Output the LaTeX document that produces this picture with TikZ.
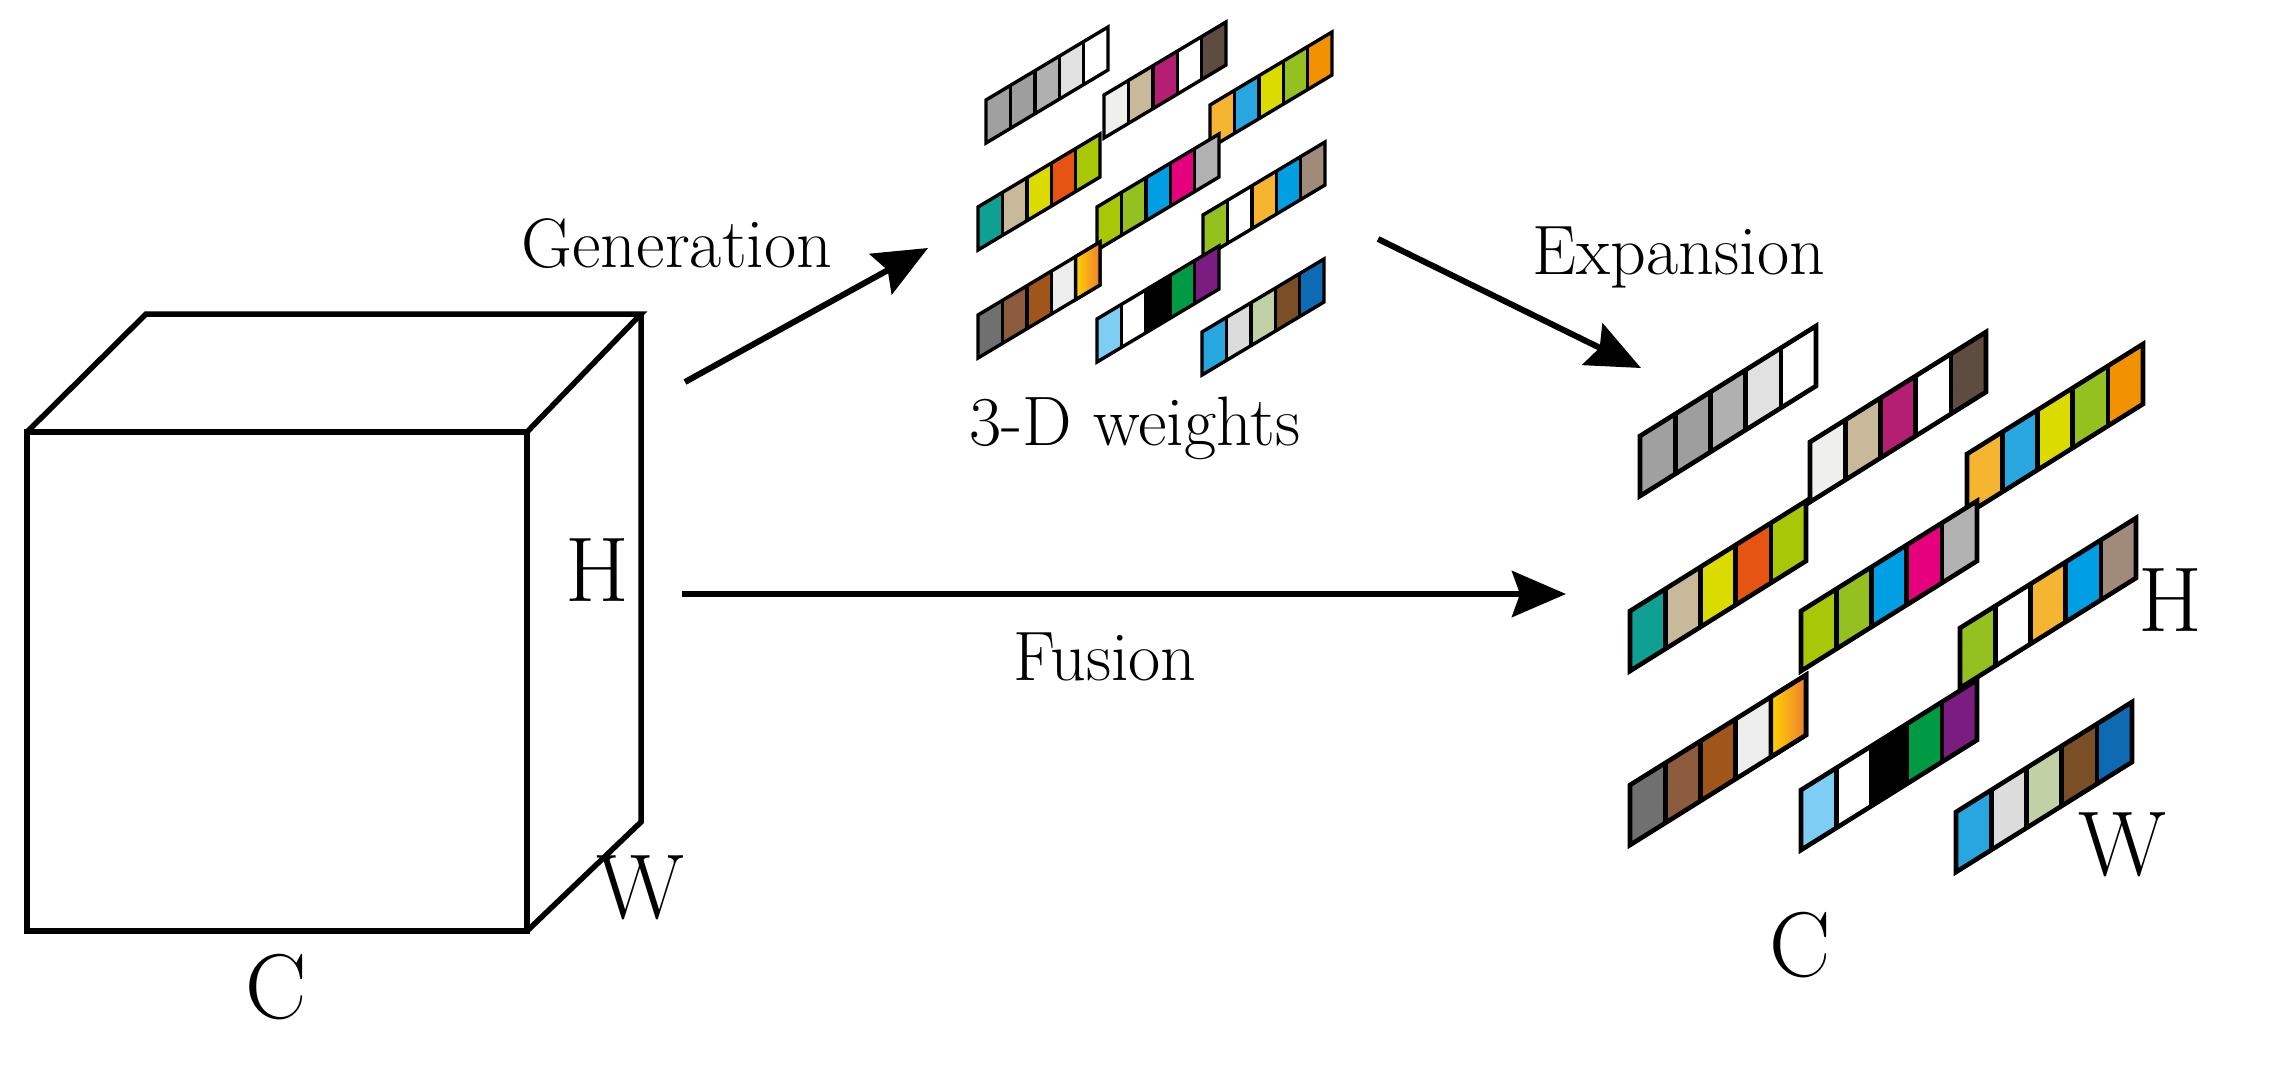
\documentclass[tikz,border=0pt]{standalone}
\usetikzlibrary{arrows.meta}
\definecolor{g1}{HTML}{A0A0A0}\definecolor{g2}{HTML}{9E9E9E}\definecolor{g3}{HTML}{B0B0B0}
\definecolor{g4}{HTML}{E0E1E0}\definecolor{wt}{HTML}{FFFFFF}
\definecolor{b1}{HTML}{EFF0EE}\definecolor{b2}{HTML}{C8B99B}\definecolor{b3}{HTML}{B41F73}\definecolor{b5}{HTML}{5E4C40}
\definecolor{c1}{HTML}{F6B531}\definecolor{c2}{HTML}{27A6E0}\definecolor{c3}{HTML}{DBDB00}\definecolor{c4}{HTML}{94C11F}\definecolor{c5}{HTML}{F39200}
\definecolor{d1}{HTML}{109F93}\definecolor{d4}{HTML}{E55412}\definecolor{d5}{HTML}{A8C706}
\definecolor{e3}{HTML}{009FE3}\definecolor{e4}{HTML}{E6007E}\definecolor{e5}{HTML}{B1B1B1}
\definecolor{f5}{HTML}{A08B7A}
\definecolor{h1}{HTML}{707070}\definecolor{h2}{HTML}{8C5A3C}\definecolor{h3}{HTML}{A0561A}\definecolor{h4}{HTML}{ECEDEC}
\definecolor{gy}{HTML}{FFD400}\definecolor{go}{HTML}{EF7D32}
\definecolor{k1}{HTML}{7DCDF4}\definecolor{k3}{HTML}{000000}\definecolor{k4}{HTML}{009A44}\definecolor{k5}{HTML}{7B1C80}
\definecolor{m2}{HTML}{DCDCDC}\definecolor{m3}{HTML}{C2D1A5}\definecolor{m4}{HTML}{7B4F26}\definecolor{m5}{HTML}{0F6AB4}
% #1 x, #2 y (bottom-left), #3 width, #4 rise, #5 height, #6 colours, #7 line width
\newcommand\wstrip[7]{%
  \pgfmathsetmacro\cw{#3/5}\pgfmathsetmacro\cr{#4/5}%
  \foreach \cc [count=\i from 0] in {#6}{%
    \fill[\cc] ({#1+\i*\cw},{#2-\i*\cr}) -- ({#1+(\i+1)*\cw},{#2-(\i+1)*\cr})
      -- ({#1+(\i+1)*\cw},{#2-(\i+1)*\cr-#5}) -- ({#1+\i*\cw},{#2-\i*\cr-#5}) -- cycle;}%
  \foreach \i in {1,...,4}{%
    \draw[line width=#7] ({#1+\i*\cw},{#2-\i*\cr}) -- ({#1+\i*\cw},{#2-\i*\cr-#5});}%
  \draw[line width=#7,line join=miter] (#1,#2) -- ({#1+#3},{#2-#4}) -- ({#1+#3},{#2-#4-#5}) -- (#1,{#2-#5}) -- cycle;}
% gradient last cell
\newcommand\gcell[6]{%
  \pgfmathsetmacro\cw{#3/5}\pgfmathsetmacro\cr{#4/5}%
  \shade[left color=gy,right color=go] ({#1+4*\cw},{#2-4*\cr}) -- ({#1+5*\cw},{#2-5*\cr})
      -- ({#1+5*\cw},{#2-5*\cr-#5}) -- ({#1+4*\cw},{#2-4*\cr-#5}) -- cycle;
  \draw[line width=#6,line join=miter] ({#1+4*\cw},{#2-4*\cr}) -- ({#1+5*\cw},{#2-5*\cr})
      -- ({#1+5*\cw},{#2-5*\cr-#5}) -- ({#1+4*\cw},{#2-4*\cr-#5}) -- cycle;}
\begin{document}
\begin{tikzpicture}[x=1pt,y=-1pt,
  lbl/.style={font=\fontsize{70}{80}\selectfont,inner sep=0pt,anchor=base},
  big/.style={font=\fontsize{92}{100}\selectfont,inner sep=0pt},
  arr/.style={line width=6pt,-{Stealth[length=54pt,width=46pt,inset=8pt]}},
  cube/.style={line width=5.5pt,line join=miter}]
\useasboundingbox (0,0) rectangle (2280,1066);
% cube
\coordinate (f1) at (27,432);\coordinate (f2) at (527,432);
\coordinate (f3) at (527,931);\coordinate (f4) at (27,931);
\coordinate (b1) at (146,314);\coordinate (b2) at (641,314);\coordinate (b3) at (641,822);
\draw[cube] (f1) -- (f2) -- (f3) -- (f4) -- cycle;
\draw[cube] (f1) -- (b1) -- (b2) -- (f2);
\draw[cube] (b2) -- (b3) -- (f3);
\node[big] (cH) at (597,570) {H};
\node[big] (cW) at (640,888) {W};
\node[big] (cC) at (276,987) {C};
% small weights
\def\sw{122}\def\sr{73}\def\sh{43}\def\sl{3.4}
\wstrip{986}{143}{\sw}{\sr}{\sh}{g1,g2,g3,g4,wt}{\sl}
\wstrip{1104}{138}{\sw}{\sr}{\sh}{b1,b2,b3,wt,b5}{\sl}
\wstrip{1210}{148}{\sw}{\sr}{\sh}{c1,c2,c3,c4,c5}{\sl}
\wstrip{978}{250}{\sw}{\sr}{\sh}{d1,b2,c3,d4,d5}{\sl}
\wstrip{1097}{250}{\sw}{\sr}{\sh}{d5,c4,e3,e4,e5}{\sl}
\wstrip{1203}{258}{\sw}{\sr}{\sh}{c4,wt,c1,e3,f5}{\sl}
\wstrip{978}{358}{\sw}{\sr}{\sh}{h1,h2,h3,h4,gy}{\sl}
\gcell{978}{358}{\sw}{\sr}{\sh}{\sl}
\wstrip{1097}{362}{\sw}{\sr}{\sh}{k1,wt,k3,k4,k5}{\sl}
\wstrip{1202}{375}{\sw}{\sr}{\sh}{c2,m2,m3,m4,m5}{\sl}
% large weights
\def\lw{176}\def\lr{110}\def\lh{60}\def\ll{4.6}
\wstrip{1640}{496}{\lw}{\lr}{\lh}{g1,g2,g3,g4,wt}{\ll}
\wstrip{1810}{502}{\lw}{\lr}{\lh}{b1,b2,b3,wt,b5}{\ll}
\wstrip{1967}{514}{\lw}{\lr}{\lh}{c1,c2,c3,c4,c5}{\ll}
\wstrip{1630}{671}{\lw}{\lr}{\lh}{d1,b2,c3,d4,d5}{\ll}
\wstrip{1801}{671}{\lw}{\lr}{\lh}{d5,c4,e3,e4,e5}{\ll}
\wstrip{1960}{688}{\lw}{\lr}{\lh}{c4,wt,c1,e3,f5}{\ll}
\wstrip{1630}{845}{\lw}{\lr}{\lh}{h1,h2,h3,h4,gy}{\ll}
\gcell{1630}{845}{\lw}{\lr}{\lh}{\ll}
\wstrip{1801}{850}{\lw}{\lr}{\lh}{k1,wt,k3,k4,k5}{\ll}
\wstrip{1956}{872}{\lw}{\lr}{\lh}{c2,m2,m3,m4,m5}{\ll}
\node[big] (rH) at (2170,600) {H};
\node[big] (rW) at (2122,845) {W};
\node[big] (rC) at (1800,945) {C};
% labels
\node[lbl] (gen) at (677,267) {Generation};
\node[lbl] (wts) at (1135,445) {3-D weights};
\node[lbl] (exp) at (1679,274) {Expansion};
\node[lbl] (fus) at (1105,680) {Fusion};
% arrows
\coordinate (g0) at (685,382);\coordinate (g1e) at (928,248);
\coordinate (e0) at (1378,239);\coordinate (e1) at (1641,368);
\coordinate (u0) at (682,594);\coordinate (u1) at (1566,594);
\draw[arr] (g0) -- (g1e);
\draw[arr] (e0) -- (e1);
\draw[arr] (u0) -- (u1);
\end{tikzpicture}
\end{document}
